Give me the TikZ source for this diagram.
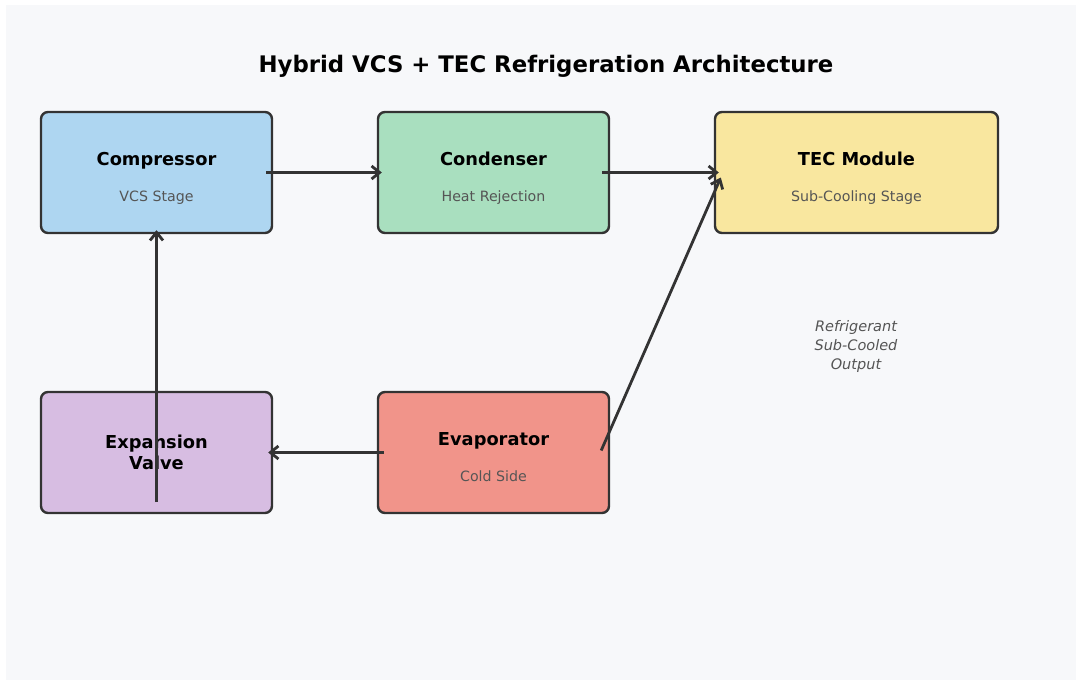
\documentclass[tikz,border=0pt]{standalone}
\usepackage{fontspec}
\setmainfont{DejaVu Sans}
\usetikzlibrary{arrows.meta}

\definecolor{panelbg}{HTML}{F7F8FA}
\definecolor{edgegray}{HTML}{333333}
\definecolor{subgray}{HTML}{555555}
\definecolor{cmpblue}{HTML}{AED6F1}
\definecolor{cndgreen}{HTML}{A9DFBF}
\definecolor{tecyellow}{HTML}{F9E79F}
\definecolor{exppurple}{HTML}{D7BDE2}
\definecolor{evpred}{HTML}{F1948A}

\begin{document}
\begin{tikzpicture}[
    x=1pt, y=-1pt,
    stage/.style={draw=edgegray, line width=2.4pt, rounded corners=7pt,
        minimum width=231pt, minimum height=121pt, inner sep=0pt},
    stagename/.style={font=\bfseries\fontsize{17.8}{21}\selectfont, inner sep=0pt,
        text height=13pt, text depth=3.6pt},
    stagesub/.style={font=\fontsize{14.2}{17}\selectfont, text=subgray, inner sep=0pt,
        text height=10.5pt, text depth=3pt},
    flow/.style={draw=edgegray, line width=2.8pt,
        -{Straight Barb[length=8pt, width=13pt, line width=2.8pt]}}
]

    % Lienzo y fondo
    \useasboundingbox (0,0) rectangle (1076,680);
    \fill[panelbg] (6,5) rectangle (1076,680);

    % Titulo
    \node[font=\bfseries\fontsize{22.8}{27}\selectfont, text height=16.7pt, text depth=4.6pt]
        (title) at (546,66) {Hybrid VCS + TEC Refrigeration Architecture};

    % Etapas del ciclo
    \node[stage, fill=cmpblue] (cmp) at (156.5,172.5) {};
    \node[stage, fill=cndgreen] (cnd) at (493.5,172.5) {};
    \node[stage, fill=tecyellow, minimum width=283pt] (tec) at (856.5,172.5) {};
    \node[stage, fill=exppurple] (exv) at (156.5,452.5) {};
    \node[stage, fill=evpred] (evp) at (493.5,452.5) {};

    % Textos de cada etapa
    \node[stagename] (cmpT) at ([yshift=11.5pt]cmp.center) {Compressor};
    \node[stagesub] (cmpS) at ([yshift=-25.5pt]cmp.center) {VCS Stage};
    \node[stagename] (cndT) at ([yshift=11.5pt]cnd.center) {Condenser};
    \node[stagesub] (cndS) at ([yshift=-25.5pt]cnd.center) {Heat Rejection};
    \node[stagename] (tecT) at ([yshift=11.5pt]tec.center) {TEC Module};
    \node[stagesub] (tecS) at ([yshift=-25.5pt]tec.center) {Sub-Cooling Stage};
    \node[font=\bfseries\fontsize{17.8}{20.5}\selectfont, align=center, inner sep=0pt]
        (exvT) at (exv.center) {Expansion\\Valve};
    \node[stagename] (evpT) at ([yshift=11.5pt]evp.center) {Evaporator};
    \node[stagesub] (evpS) at ([yshift=-25.5pt]evp.center) {Cold Side};

    % Nota de salida
    \node[font=\itshape\fontsize{14.5}{19}\selectfont, text=subgray, align=center]
        (out) at (856,346) {Refrigerant\\Sub-Cooled\\Output};

    % Flujo del refrigerante
    \draw[flow] ([xshift=-7pt]cmp.east) -- ([xshift=5pt]cnd.west);
    \draw[flow] ([xshift=-8pt]cnd.east) -- ([xshift=5pt]tec.west);
    \draw[flow] ([xshift=-9pt, yshift=2pt]evp.east) -- ([xshift=7pt, yshift=-5pt]tec.west);
    \draw[flow] ([xshift=7pt]evp.west) -- ([xshift=-5pt]exv.east);
    \draw[flow] ([yshift=12pt]exv.south) -- ([yshift=4pt]cmp.south);

\end{tikzpicture}
\end{document}
